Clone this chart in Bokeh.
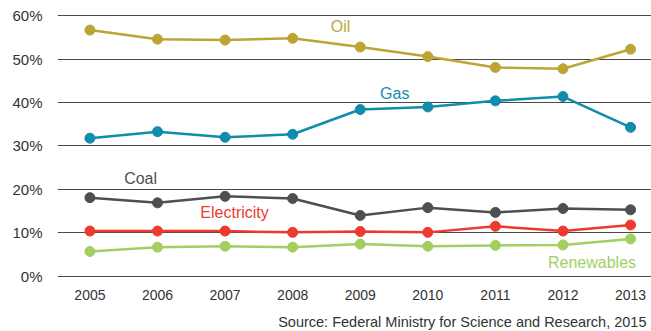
from bokeh.plotting import figure
from bokeh.models import FixedTicker, PrintfTickFormatter, Label, Range1d, Title
from bokeh.embed import file_html
from bokeh.resources import INLINE

# Share of energy sources, 2005-2013 (percent)
years = [2005, 2006, 2007, 2008, 2009, 2010, 2011, 2012, 2013]
oil = [56.7, 54.6, 54.4, 54.8, 52.8, 50.6, 48.1, 47.8, 52.3]
gas = [31.8, 33.3, 32.0, 32.7, 38.4, 39.0, 40.4, 41.4, 34.3]
coal = [18.1, 16.9, 18.4, 17.9, 14.0, 15.8, 14.7, 15.6, 15.3]
electricity = [10.4, 10.4, 10.4, 10.1, 10.3, 10.1, 11.5, 10.4, 11.8]
renewables = [5.7, 6.7, 6.9, 6.7, 7.4, 6.9, 7.1, 7.2, 8.6]

series = [
    ("Oil", oil, "#BDA535"),
    ("Gas", gas, "#108DAA"),
    ("Coal", coal, "#4E4F51"),
    ("Electricity", electricity, "#EE3A2E"),
    ("Renewables", renewables, "#A2CF5F"),
]

# where each series name is written (data coordinates)
label_pos = {
    "Oil": (2008.71, 57.5),
    "Gas": (2009.51, 42.1),
    "Coal": (2005.75, 22.5),
    "Electricity": (2007.14, 14.7),
    "Renewables": (2012.43, 3.2),
}

y_ticks = [0, 10, 20, 30, 40, 50, 60]
source_text = "Source: Federal Ministry for Science and Research, 2015"

FONT = "Liberation Sans"

p = figure(
    frame_width=594, frame_height=280,
    output_backend="svg", toolbar_location=None,
    x_range=Range1d(2004.52, 2013.31),
    y_range=Range1d(-2.14, 62.37),
    min_border_left=57, min_border_right=0,
    min_border_top=5, min_border_bottom=46,
)
p.outline_line_color = None
p.background_fill_color = "white"
p.border_fill_color = "white"

p.xgrid.grid_line_color = None
p.ygrid.grid_line_color = "#4a4a4a"
p.ygrid.grid_line_width = 1
p.ygrid.ticker = FixedTicker(ticks=y_ticks)

p.yaxis.ticker = FixedTicker(ticks=y_ticks)
p.yaxis.formatter = PrintfTickFormatter(format="%d%%")
p.yaxis.axis_line_color = None
p.yaxis.major_tick_line_color = None
p.yaxis.minor_tick_line_color = None
p.yaxis.major_tick_out = 0
p.yaxis.major_label_standoff = 15
p.yaxis.major_label_text_font = FONT
p.yaxis.major_label_text_font_size = "15px"
p.yaxis.major_label_text_color = "#333333"

p.xaxis.ticker = FixedTicker(ticks=years)
p.xaxis.axis_line_color = None
p.xaxis.major_tick_line_color = None
p.xaxis.minor_tick_line_color = None
p.xaxis.major_tick_out = 0
p.xaxis.major_label_standoff = 4
p.xaxis.major_label_text_font = FONT
p.xaxis.major_label_text_font_size = "14px"
p.xaxis.major_label_text_color = "#333333"

for name, vals, color in series:
    p.line(years, vals, line_color=color, line_width=2.5)
    p.scatter(years, vals, size=10, fill_color=color, line_color=color)
    lx, ly = label_pos[name]
    p.add_layout(Label(
        x=lx, y=ly, text=name,
        text_align="center", text_baseline="middle",
        text_font=FONT, text_font_size="16px", text_color=color,
    ))

p.add_layout(Title(
    text=source_text, align="right", offset=5, standoff=19,
    text_font=FONT, text_font_size="14.5px", text_font_style="normal",
    text_color="#333333",
), "below")

open("out.html", "w").write(file_html(p, INLINE))
